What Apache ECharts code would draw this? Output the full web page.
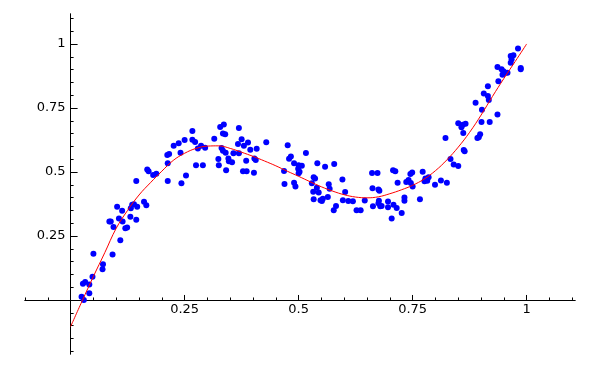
<!DOCTYPE html>
<html>
<head>
<meta charset="utf-8">
<script src="https://cdn.jsdelivr.net/npm/echarts@6/dist/echarts.min.js"></script>
<style>html,body{margin:0;padding:0;background:#fff}#c{width:600px;height:370px}</style>
</head>
<body>
<div id="c"></div>
<script>
// Scatter data [x, y]
var points = [
[0.024,0.013],[0.029,0.0],[0.027,0.063],[0.032,0.07],[0.041,0.06],[0.041,0.026],[0.048,0.091],[0.05,0.181],
[0.071,0.14],[0.07,0.12],[0.092,0.178],[0.109,0.233],[0.085,0.307],[0.088,0.307],[0.094,0.285],[0.102,0.364],
[0.106,0.318],[0.113,0.349],[0.114,0.307],[0.12,0.28],[0.124,0.283],[0.132,0.358],[0.131,0.325],[0.135,0.372],
[0.139,0.374],[0.144,0.313],[0.146,0.364],[0.144,0.465],[0.161,0.384],[0.166,0.37],[0.168,0.51],[0.171,0.503],
[0.181,0.488],[0.188,0.493],[0.213,0.534],[0.213,0.465],[0.243,0.456],[0.253,0.486],
[0.212,0.566],[0.216,0.57],[0.226,0.602],[0.237,0.612],
[0.241,0.575],[0.25,0.625],[0.267,0.66],[0.267,0.626],[0.273,0.617],[0.279,0.592],[0.286,0.602],[0.295,0.595],
[0.275,0.526],[0.29,0.526],[0.315,0.63],[0.328,0.676],[0.336,0.685],[0.334,0.65],[0.339,0.647],[0.331,0.594],
[0.334,0.583],[0.324,0.551],[0.325,0.526],[0.34,0.575],[0.346,0.553],[0.347,0.542],[0.354,0.538],[0.341,0.507],
[0.357,0.573],[0.369,0.573],[0.369,0.672],[0.367,0.609],[0.375,0.628],[0.38,0.602],[0.389,0.615],[0.394,0.587],
[0.385,0.544],[0.403,0.553],[0.406,0.547],[0.408,0.591],[0.378,0.503],[0.386,0.503],[0.402,0.497],[0.429,0.616],
[0.476,0.604],[0.483,0.56],[0.479,0.552],[0.49,0.534],[0.502,0.501],[0.468,0.504],[0.469,0.453],[0.49,0.458],
[0.493,0.443],
[0.5,0.526],[0.499,0.513],[0.507,0.524],[0.5,0.495],[0.516,0.574],[0.541,0.534],[0.558,0.52],[0.578,0.531],
[0.533,0.479],[0.536,0.474],[0.529,0.456],[0.54,0.438],[0.532,0.423],[0.544,0.42],[0.533,0.393],[0.548,0.39],
[0.553,0.395],[0.551,0.387],[0.564,0.402],[0.566,0.452],[0.568,0.434],[0.582,0.367],[0.577,0.35],[0.596,0.471],
[0.602,0.422],[0.597,0.39],[0.609,0.387],[0.619,0.386],[0.627,0.35],[0.636,0.35],[0.645,0.389],[0.661,0.496],
[0.673,0.496],[0.662,0.436],[0.675,0.432],[0.677,0.427],[0.663,0.366],[0.676,0.388],[0.675,0.378],[0.679,0.366],
[0.682,0.367],[0.696,0.385],[0.696,0.362],[0.707,0.507],[0.712,0.503],[0.717,0.458],[0.708,0.372],[0.715,0.359],
[0.704,0.318],[0.732,0.4],[0.732,0.388],[0.726,0.34],[0.736,0.461],[0.741,0.469],[0.745,0.492],[0.749,0.498],
[0.746,0.457],[0.75,0.443],
[0.766,0.393],[0.772,0.501],[0.776,0.464],[0.778,0.474],[0.782,0.466],[0.785,0.479],[0.799,0.45],[0.812,0.467],
[0.825,0.458],[0.822,0.633],[0.833,0.551],[0.84,0.529],[0.85,0.523],[0.85,0.69],[0.86,0.684],[0.857,0.675],
[0.866,0.688],[0.861,0.652],[0.862,0.586],[0.864,0.581],[0.895,0.636],[0.892,0.633],[0.898,0.647],
[0.901,0.695],[0.919,0.695],[0.936,0.724],[0.888,0.77],[0.902,0.743],[0.906,0.806],[0.915,0.797],[0.917,0.781],
[0.915,0.835],[0.936,0.91],[0.938,0.854],[0.945,0.901],[0.949,0.893],[0.947,0.88],[0.954,0.888],[0.958,0.888],
[0.965,0.953],[0.967,0.94],[0.965,0.927],[0.971,0.956],[0.981,0.982],[0.987,0.906],[0.987,0.901]
];

// Fitted curve [x, y]
var curve = [
[0,-0.104],[0.025,-0.005],[0.05,0.092],[0.075,0.185],[0.1,0.28],[0.125,0.35],[0.15,0.41],[0.175,0.458],
[0.2,0.503],[0.225,0.545],[0.25,0.573],[0.275,0.592],[0.3,0.601],[0.325,0.602],[0.35,0.592],[0.375,0.577],
[0.4,0.561],[0.425,0.543],[0.45,0.524],[0.475,0.503],[0.5,0.483],[0.525,0.462],[0.55,0.442],[0.575,0.425],
[0.6,0.411],[0.625,0.402],[0.65,0.399],[0.675,0.403],[0.7,0.415],[0.725,0.43],[0.75,0.448],[0.775,0.472],
[0.8,0.505],[0.825,0.547],[0.85,0.597],[0.875,0.655],[0.9,0.722],[0.925,0.795],[0.95,0.865],[0.975,0.932],[1,1.0]
];

// Ticks
var xMajorTicks = [0.25, 0.5, 0.75, 1];
var yMajorTicks = [0.25, 0.5, 0.75, 1];
var xMinorTicks = [-0.1,-0.05,0.05,0.1,0.15,0.2,0.3,0.35,0.4,0.45,0.55,0.6,0.65,0.7,0.8,0.85,0.9,0.95,1.05,1.1];
var yMinorTicks = [-0.2,-0.15,-0.1,-0.05,0.05,0.1,0.15,0.2,0.3,0.35,0.4,0.45,0.55,0.6,0.65,0.7,0.8,0.85,0.9,0.95,1.05,1.1];
var xLabels = ['0.25', '0.5', '0.75', '1'];
var yLabels = ['0.25', '0.5', '0.75', '1'];

var X_MIN = -0.1, X_MAX = 1.106, Y_MIN = -0.211, Y_MAX = 1.117;
var GRID = { left: 25, right: 25, top: 14, bottom: 16 };
var W = 600, H = 370;
var FONT = 'DejaVu Sans';

// place the axes through the origin (offset from the grid edge, derived from the ranges)
var plotW = W - GRID.left - GRID.right, plotH = H - GRID.top - GRID.bottom;
var xAxisOffset = -(plotH * (0 - Y_MIN) / (Y_MAX - Y_MIN));
var yAxisOffset = -(plotW * (0 - X_MIN) / (X_MAX - X_MIN));

function labelFmt(ticks, labels) {
  return function (v) {
    for (var i = 0; i < ticks.length; i++) if (Math.abs(ticks[i] - v) < 1e-9) return labels[i];
    return '';
  };
}

var axisLineStyle = { show: true, onZero: false, lineStyle: { color: '#000', width: 1 } };

var chart = echarts.init(document.getElementById('c'), null, { renderer: 'canvas' });
chart.setOption({
  animation: false,
  backgroundColor: '#fff',
  grid: { left: GRID.left, right: GRID.right, top: GRID.top, bottom: GRID.bottom, containLabel: false, outerBoundsMode: 'none' },
  xAxis: [
    {
      type: 'value', min: X_MIN, max: X_MAX, position: 'bottom', offset: xAxisOffset,
      axisLine: axisLineStyle,
      axisTick: { show: true, inside: true, length: 5, customValues: xMajorTicks, lineStyle: { color: '#000' } },
      axisLabel: { show: true, customValues: xMajorTicks, formatter: labelFmt(xMajorTicks, xLabels),
        color: '#000', fontFamily: FONT, fontSize: 13, margin: 3 },
      splitLine: { show: false }
    },
    {
      type: 'value', min: X_MIN, max: X_MAX, position: 'bottom', offset: xAxisOffset,
      axisLine: axisLineStyle,
      axisTick: { show: true, inside: true, length: 2.5, customValues: xMinorTicks, lineStyle: { color: '#000' } },
      axisLabel: { show: false },
      splitLine: { show: false }
    }
  ],
  yAxis: [
    {
      type: 'value', min: Y_MIN, max: Y_MAX, position: 'left', offset: yAxisOffset,
      axisLine: axisLineStyle,
      axisTick: { show: true, inside: true, length: 7, customValues: yMajorTicks, lineStyle: { color: '#000' } },
      axisLabel: { show: true, customValues: yMajorTicks, formatter: labelFmt(yMajorTicks, yLabels),
        color: '#000', fontFamily: FONT, fontSize: 13, margin: 5 },
      splitLine: { show: false }
    },
    {
      type: 'value', min: Y_MIN, max: Y_MAX, position: 'left', offset: yAxisOffset,
      axisLine: axisLineStyle,
      axisTick: { show: true, inside: true, length: 3, customValues: yMinorTicks, lineStyle: { color: '#000' } },
      axisLabel: { show: false },
      splitLine: { show: false }
    }
  ],
  series: [
    {
      type: 'scatter', xAxisIndex: 0, yAxisIndex: 0,
      data: points, symbol: 'circle', symbolSize: 6,
      itemStyle: { color: '#0000ff', opacity: 1 },
      z: 2
    },
    {
      type: 'line', xAxisIndex: 0, yAxisIndex: 0,
      data: curve, smooth: 0.4, showSymbol: false, symbol: 'none',
      lineStyle: { color: '#ff0000', width: 1 },
      z: 3
    }
  ]
});
</script>
</body>
</html>
